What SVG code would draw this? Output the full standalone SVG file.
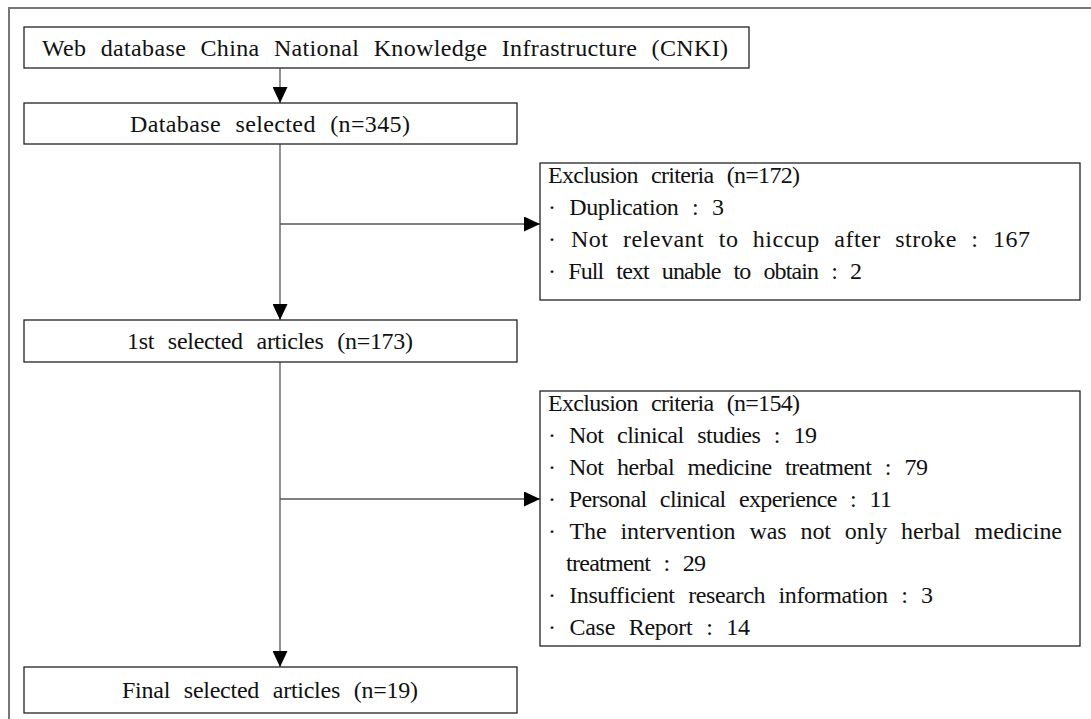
<svg xmlns="http://www.w3.org/2000/svg" width="1091" height="719" viewBox="0 0 1091 719">
<defs>
<marker id="ah" markerWidth="16" markerHeight="15" refX="16" refY="7.5" orient="auto" markerUnits="userSpaceOnUse">
<path d="M0,0 L16,7.5 L0,15 Z" fill="#000"/>
</marker>
<style>
.box{fill:#fff;stroke:#222;stroke-width:1.3}
.t{font-size:24px;fill:#111;word-spacing:8px}
.c{text-anchor:middle}
.ln{stroke:#555;stroke-width:1.3;fill:none}
</style>
</defs>
<rect width="1091" height="719" fill="#fff"/>
<path d="M9,719 V8 H1091" fill="none" stroke="#777" stroke-width="2"/>
<g id="connectors">
<line class="ln" x1="280" y1="68" x2="280" y2="103" marker-end="url(#ah)"/>
<line class="ln" x1="280" y1="144" x2="280" y2="320" marker-end="url(#ah)"/>
<line class="ln" x1="280" y1="224" x2="540" y2="224" marker-end="url(#ah)"/>
<line class="ln" x1="280" y1="362" x2="280" y2="667" marker-end="url(#ah)"/>
<line class="ln" x1="280" y1="499" x2="540" y2="499" marker-end="url(#ah)"/>
</g>
<g font-family="Liberation Serif, Times New Roman, DejaVu Serif, serif">
<g id="n1">
<rect class="box" x="24" y="27" width="725" height="41"/>
<text class="t" x="42" y="56" textLength="686" lengthAdjust="spacing">Web database China National Knowledge Infrastructure (CNKI)</text>
</g>
<g id="n2">
<rect class="box" x="24" y="103" width="493" height="41"/>
<text class="t c" x="270" y="132" textLength="280" lengthAdjust="spacing">Database selected (n=345)</text>
</g>
<g id="n3">
<rect class="box" x="540" y="163" width="540" height="137"/>
<text class="t" x="548" y="183" textLength="252" lengthAdjust="spacing">Exclusion criteria (n=172)</text>
<text class="t" x="548" y="215" textLength="176" lengthAdjust="spacing">· Duplication : 3</text>
<text class="t" x="548" y="247" textLength="482" lengthAdjust="spacing">· Not relevant to hiccup after stroke : 167</text>
<text class="t" x="548" y="279" textLength="314" lengthAdjust="spacing">· Full text unable to obtain : 2</text>
</g>
<g id="n4">
<rect class="box" x="24" y="320" width="493" height="42"/>
<text class="t c" x="270" y="349" textLength="286" lengthAdjust="spacing">1st selected articles (n=173)</text>
</g>
<g id="n5">
<rect class="box" x="540" y="391" width="540" height="255"/>
<text class="t" x="548" y="411" textLength="252" lengthAdjust="spacing">Exclusion criteria (n=154)</text>
<text class="t" x="548" y="443" textLength="269" lengthAdjust="spacing">· Not clinical studies : 19</text>
<text class="t" x="548" y="475" textLength="380" lengthAdjust="spacing">· Not herbal medicine treatment : 79</text>
<text class="t" x="548" y="507" textLength="344" lengthAdjust="spacing">· Personal clinical experience : 11</text>
<text class="t" x="548" y="539" textLength="514" lengthAdjust="spacing">· The intervention was not only herbal medicine</text>
<text class="t" x="566" y="571" textLength="140" lengthAdjust="spacing">treatment : 29</text>
<text class="t" x="548" y="603" textLength="385" lengthAdjust="spacing">· Insufficient research information : 3</text>
<text class="t" x="548" y="635" textLength="202" lengthAdjust="spacing">· Case Report : 14</text>
</g>
<g id="n6">
<rect class="box" x="24" y="667" width="493" height="46"/>
<text class="t c" x="270" y="698" textLength="296" lengthAdjust="spacing">Final selected articles (n=19)</text>
</g>
</g>
</svg>
